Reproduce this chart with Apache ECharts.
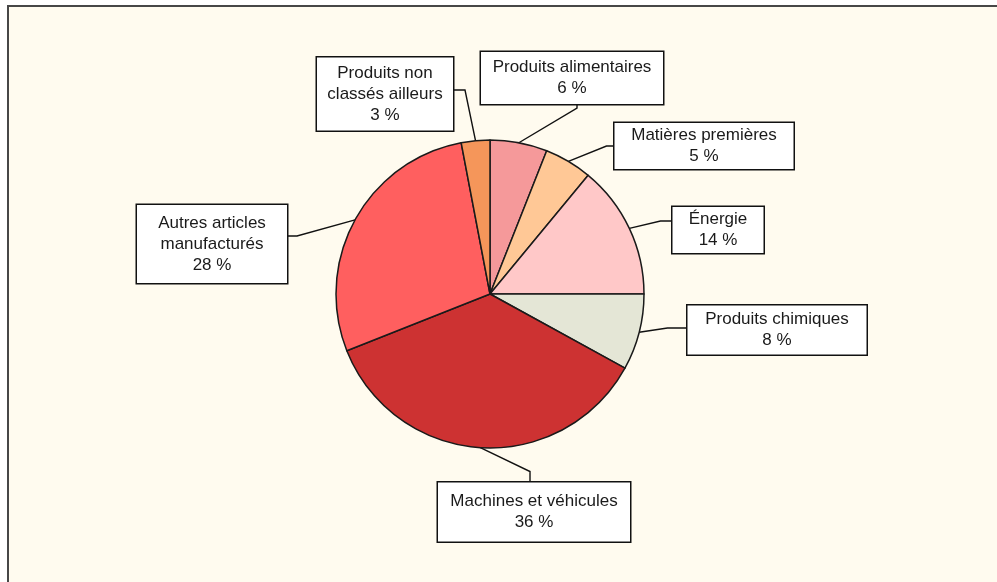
<!DOCTYPE html>
<html>
<head>
<meta charset="utf-8">
<script src="https://cdn.jsdelivr.net/npm/echarts@6/dist/echarts.min.js"></script>
<style>
  html, body { margin: 0; padding: 0; background: #fff; }
  #frame {
    position: absolute; left: 7px; top: 5px; width: 1100px; height: 700px;
    background: #fffbef; border-left: 2px solid #474747; border-top: 2px solid #474747;
  }
  #main { position: absolute; left: 0; top: 0; width: 997px; height: 582px; }
</style>
</head>
<body>
<div id="frame"></div>
<div id="main"></div>
<script>
// categories, clockwise from 12 o'clock
var categories = [
  "Produits alimentaires",
  "Matières premières",
  "Énergie",
  "Produits chimiques",
  "Machines et véhicules",
  "Autres articles\nmanufacturés",
  "Produits non\nclassés ailleurs"
];
var shares = [6, 5, 14, 8, 36, 28, 3];
var sliceColors = ["#f5999a", "#ffc896", "#ffc8c8", "#e4e6d6", "#cd3232", "#ff5f5f", "#f5965a"];

// label boxes: centre, size, which side the leader leaves from, offset along that side, bend length
var labelBoxes = [
  { x: 572, y: 78,  w: 182, h: 52, side: "bottom", off: 5,  bend: 4 },
  { x: 704, y: 146, w: 179, h: 46, side: "left",   off: 0,  bend: 8 },
  { x: 718, y: 230, w: 91,  h: 46, side: "left",   off: -9, bend: 12 },
  { x: 777, y: 330, w: 179, h: 49, side: "left",   off: -2, bend: 20 },
  { x: 534, y: 512, w: 192, h: 59, side: "top",    off: -4, bend: 11 },
  { x: 212, y: 244, w: 150, h: 78, side: "right",  off: -8, bend: 10 },
  { x: 385, y: 94,  w: 136, h: 73, side: "right",  off: -4, bend: 12 }
];

var myChart = echarts.init(document.getElementById("main"));

var pieData = categories.map(function (name, i) {
  return {
    name: name,
    value: shares[i],
    itemStyle: { color: sliceColors[i] },
    label: { width: labelBoxes[i].w, height: labelBoxes[i].h }
  };
});

myChart.setOption({
  backgroundColor: "transparent",
  animation: false,
  series: [
    {
      type: "pie",
      center: [490, 294],
      radius: 154,
      startAngle: 90,
      clockwise: true,
      avoidLabelOverlap: false,
      silent: true,
      itemStyle: { borderColor: "#1a1a1a", borderWidth: 1.5 },
      label: {
        show: true,
        position: "outside",
        formatter: "{b}\n{c} %",
        fontFamily: "Liberation Sans",
        fontSize: 17,
        lineHeight: 21,
        color: "#1a1a1a",
        align: "center",
        verticalAlign: "middle",
        overflow: "none",
        backgroundColor: "#fff",
        borderColor: "#111",
        borderWidth: 1.5,
        padding: 0
      },
      labelLine: { show: true, lineStyle: { color: "#111", width: 1.4 } },
      labelLayout: function (p) {
        var b = labelBoxes[p.dataIndex];
        var start = p.labelLinePoints[0];
        var end, bend;
        if (b.side === "left") {
          end = [b.x - b.w / 2, b.y + b.off];
          bend = [end[0] - b.bend, end[1]];
        } else if (b.side === "right") {
          end = [b.x + b.w / 2, b.y + b.off];
          bend = [end[0] + b.bend, end[1]];
        } else if (b.side === "top") {
          end = [b.x + b.off, b.y - b.h / 2];
          bend = [end[0], end[1] - b.bend];
        } else {
          end = [b.x + b.off, b.y + b.h / 2];
          bend = [end[0], end[1] + b.bend];
        }
        return {
          x: b.x,
          y: b.y,
          align: "center",
          verticalAlign: "middle",
          labelLinePoints: [start, bend, end]
        };
      },
      data: pieData
    }
  ]
});
</script>
</body>
</html>
